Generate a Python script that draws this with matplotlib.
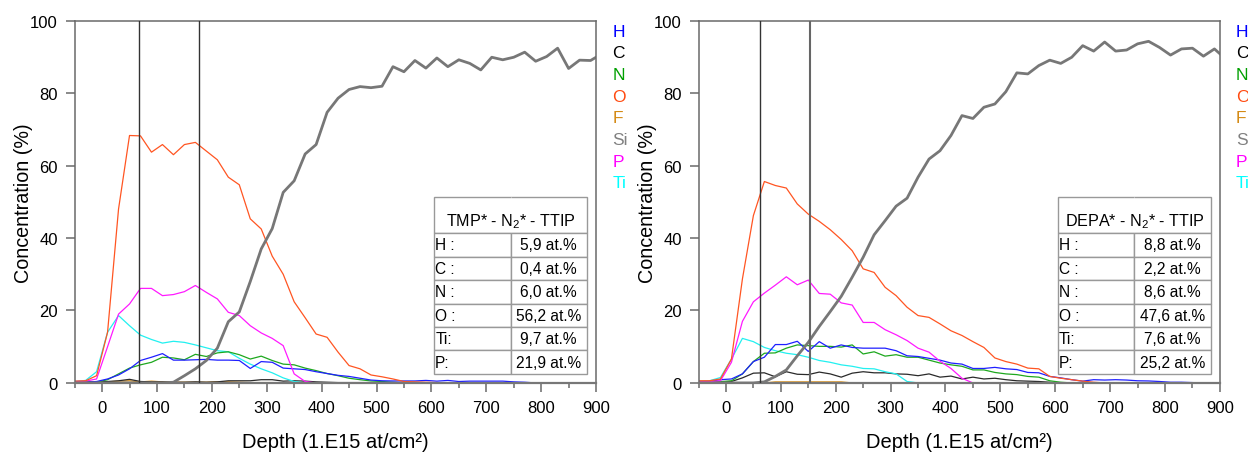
import matplotlib
matplotlib.use("Agg")
import matplotlib.pyplot as plt
from matplotlib.ticker import MultipleLocator

plt.rcParams['font.family'] = ['Liberation Sans', 'DejaVu Sans']
plt.rcParams['mathtext.fontset'] = 'custom'
plt.rcParams['mathtext.rm'] = 'Liberation Sans'
plt.rcParams['mathtext.default'] = 'rm'

# depth grid (1.E15 at/cm2)
depth = [-50, -30, -10, 10, 30, 50, 70, 90, 110, 130, 150, 170, 190, 210, 230, 250,
         270, 290, 310, 330, 350, 370, 390, 410, 430, 450, 470, 490, 510, 530, 550,
         570, 590, 610, 630, 650, 670, 690, 710, 730, 750, 770, 790, 810, 830, 850,
         870, 890, 910]

# ---- TMP* - N2* - TTIP ----
tmp_H = [0.2, 0.2, 0.4, 1.1, 2.2, 3.9, 6.2, 7.1, 8.1, 6.3, 6.3, 6.4, 6.5, 6.3, 6.3, 6.2,
         4.0, 5.9, 5.7, 4.1, 3.9, 3.7, 3.1, 2.6, 2.1, 1.8, 1.3, 0.8, 0.6, 0.55, 0.55,
         0.55, 0.7, 0.5, 0.7, 0.4, 0.5, 0.5, 0.5, 0.5, 0.3, 0.2, 0, 0, 0, 0,
         0, 0, 0]
tmp_C = [0.3, 0.3, 0.3, 0.4, 0.6, 1.0, 0.4, 0.3, 0.3, 0.2, 0.2, 0.3, 0.2, 0.3, 0.6, 0.6,
         0.6, 0.9, 0.9, 0.5, 0.6, 0.5, 0.3, 0.2, 0.1, 0.1, 0.1, 0.1, 0.1, 0.1, 0.1,
         0, 0, 0, 0, 0, 0, 0, 0, 0, 0, 0, 0, 0, 0, 0,
         0, 0, 0]
tmp_N = [0.2, 0.2, 0.2, 0.9, 2.5, 4.1, 5.0, 5.7, 7.1, 6.9, 6.4, 7.9, 7.3, 8.3, 8.6, 7.8,
         6.6, 7.4, 6.2, 5.2, 5.0, 4.1, 3.4, 2.6, 2.0, 1.3, 0.9, 0.55, 0.4, 0.2, 0,
         0, 0, 0, 0, 0, 0, 0, 0, 0, 0, 0, 0, 0, 0, 0,
         0, 0, 0]
tmp_O = [0.5, 0.6, 2.0, 14.0, 48.0, 68.3, 68.2, 63.7, 65.8, 63.0, 65.8, 66.4, 64.0, 61.6, 56.8, 54.7,
         45.3, 42.5, 35.0, 30.0, 22.4, 18.0, 13.5, 12.6, 8.5, 4.8, 3.9, 2.2, 1.7, 1.1, 0.4,
         0.3, 0.2, 0.1, 0, 0, 0, 0, 0, 0, 0, 0, 0, 0, 0, 0,
         0, 0, 0]
tmp_F = [0, 0.1, 0.2, 0.3, 0.5, 0.6, 0.3, 0.5, 0.3, 0.2, 0.2, 0.2, 0.2, 0.3, 0.3, 0.2,
         0.1, 0.1, 0.1, 0, 0, 0, 0, 0, 0, 0, 0, 0, 0, 0, 0,
         0, 0, 0, 0, 0, 0, 0, 0, 0, 0, 0, 0, 0, 0, 0,
         0, 0, 0]
tmp_Si = [0, 0, 0, 0, 0, 0, 0, 0, 0, 0.2, 2.0, 3.9, 6.2, 9.6, 16.9, 19.6,
          28.0, 37.0, 42.6, 52.6, 55.8, 63.2, 65.8, 74.7, 78.6, 81.0, 81.8, 81.5, 81.9, 87.3, 85.9,
          89.0, 86.9, 89.7, 87.3, 89.2, 88.2, 86.4, 89.9, 89.2, 89.9, 91.3, 88.8, 90.1, 92.4, 86.8,
          89.1, 89.0, 90.8]
tmp_P = [0.4, 0.5, 1.1, 10.0, 19.0, 21.8, 26.1, 26.1, 24.1, 24.4, 25.2, 26.9, 25.0, 23.2, 19.5, 18.6,
         15.8, 13.8, 12.3, 10.3, 2.5, 0.4, 0, 0, 0, 0, 0, 0, 0, 0, 0,
         0, 0, 0, 0, 0, 0, 0, 0, 0, 0, 0, 0, 0, 0, 0,
         0, 0, 0]
tmp_Ti = [0.4, 0.7, 3.1, 14.0, 18.6, 15.8, 13.2, 12.0, 11.0, 11.5, 11.2, 10.5, 9.7, 8.9, 8.6, 6.8,
          5.2, 3.9, 2.8, 1.4, 0.4, 0, 0, 0, 0, 0, 0, 0, 0, 0, 0,
          0, 0, 0, 0, 0, 0, 0, 0, 0, 0, 0, 0, 0, 0, 0,
          0, 0, 0]

# ---- DEPA* - N2* - TTIP ----
depa_H = [0.4, 0.4, 0.9, 1.1, 2.5, 5.9, 7.1, 10.6, 10.6, 11.5, 8.7, 11.4, 9.6, 10.5, 9.8, 9.6,
          9.6, 9.6, 8.9, 7.5, 7.3, 6.8, 6.3, 5.5, 5.2, 4.0, 4.0, 4.3, 3.9, 3.7, 2.9,
          2.8, 1.8, 1.4, 0.9, 0.5, 0.9, 0.8, 0.9, 0.8, 0.6, 0.55, 0.4, 0.2, 0.2, 0.1,
          0, 0, 0]
depa_C = [0.2, 0.2, 0.4, 0.4, 1.4, 2.7, 2.8, 1.7, 3.1, 2.4, 2.3, 3.0, 2.5, 1.6, 2.7, 3.1,
          2.8, 2.8, 2.5, 2.4, 2.0, 2.5, 1.6, 1.9, 1.1, 1.6, 1.1, 1.3, 0.9, 0.6, 0.5,
          0.4, 0.2, 0, 0, 0, 0, 0, 0, 0, 0, 0, 0, 0, 0, 0,
          0, 0, 0]
depa_N = [0.2, 0.2, 0.3, 0.6, 2.5, 5.9, 8.2, 8.3, 9.6, 10.5, 10.3, 10.1, 10.1, 9.9, 10.5, 8.0,
          8.6, 7.4, 7.8, 7.1, 7.1, 6.3, 5.5, 5.0, 4.6, 3.6, 3.6, 2.9, 2.5, 2.3, 1.8,
          1.6, 0.6, 0.2, 0, 0, 0, 0, 0, 0, 0, 0, 0, 0, 0, 0,
          0, 0, 0]
depa_O = [0.6, 0.6, 1.1, 6.6, 28.7, 46.2, 55.6, 54.5, 53.8, 49.4, 46.6, 44.6, 42.3, 39.6, 36.5, 31.5,
          30.5, 26.4, 24.1, 20.9, 18.6, 18.1, 16.3, 14.4, 13.1, 11.4, 9.8, 6.9, 5.9, 5.2, 4.1,
          3.9, 1.8, 1.3, 0.9, 0.5, 0.2, 0, 0, 0, 0, 0, 0, 0, 0, 0,
          0, 0, 0]
depa_F = [0, 0, 0, 0, 0, 0, 0, 0.3, 0.3, 0.3, 0.3, 0.3, 0.3, 0.3, 0, 0,
          0, 0, 0, 0, 0, 0, 0, 0, 0, 0, 0, 0, 0, 0, 0,
          0, 0, 0, 0, 0, 0, 0, 0, 0, 0, 0, 0, 0, 0, 0,
          0, 0, 0]
depa_Si = [0, 0, 0, 0, 0, 0, 0.3, 1.8, 3.6, 7.5, 11.2, 15.6, 19.7, 23.9, 29.2, 34.7,
           40.9, 44.8, 48.8, 51.0, 56.8, 61.8, 64.1, 68.3, 73.8, 73.0, 76.1, 77.0, 80.4, 85.6, 85.3,
           87.6, 89.1, 88.2, 89.9, 93.1, 91.6, 94.1, 91.6, 91.9, 93.6, 94.3, 92.6, 90.5, 92.2, 92.4,
           90.2, 92.2, 89.5]
depa_P = [0.4, 0.4, 0.6, 5.7, 17.0, 22.4, 24.8, 27.0, 29.3, 27.1, 28.4, 24.7, 24.5, 22.1, 21.5, 16.7,
          16.7, 14.7, 13.3, 11.7, 9.6, 8.5, 6.0, 4.0, 1.3, 0, 0, 0, 0, 0, 0,
          0, 0, 0, 0, 0, 0, 0, 0, 0, 0, 0, 0, 0, 0, 0,
          0, 0, 0]
depa_Ti = [0.4, 0.6, 1.5, 6.6, 12.3, 11.4, 9.8, 8.9, 8.2, 7.8, 7.1, 6.2, 5.7, 5.0, 4.6, 4.0,
           3.9, 3.1, 2.5, 0.4, 0, 0, 0, 0, 0, 0, 0, 0, 0, 0, 0,
           0, 0, 0, 0, 0, 0, 0, 0, 0, 0, 0, 0, 0, 0, 0,
           0, 0, 0]

elements = ['H', 'C', 'N', 'O', 'F', 'Si', 'P', 'Ti']
line_colors = {'H': '#1f1fff', 'C': '#2a2a2a', 'N': '#1ea81e', 'O': '#ff5522',
               'F': '#d9901c', 'Si': '#777777', 'P': '#ff1aff', 'Ti': '#22f0f0'}
text_colors = {'H': '#0000ff', 'C': '#000000', 'N': '#00a000', 'O': '#ff4a10',
               'F': '#d48a14', 'Si': '#808080', 'P': '#ff00ff', 'Ti': '#00ffff'}

tmp_series = {'H': tmp_H, 'C': tmp_C, 'N': tmp_N, 'O': tmp_O, 'F': tmp_F,
              'Si': tmp_Si, 'P': tmp_P, 'Ti': tmp_Ti}
depa_series = {'H': depa_H, 'C': depa_C, 'N': depa_N, 'O': depa_O, 'F': depa_F,
               'Si': depa_Si, 'P': depa_P, 'Ti': depa_Ti}

tmp_bounds = [68, 177]
depa_bounds = [62, 153]

tmp_title = 'TMP* - N$_2$* - TTIP'
depa_title = 'DEPA* - N$_2$* - TTIP'
table_labels = ['H :', 'C :', 'N :', 'O :', 'Ti:', 'P:']
tmp_table = ['5,9 at.%', '0,4 at.%', '6,0 at.%', '56,2 at.%', '9,7 at.%', '21,9 at.%']
depa_table = ['8,8 at.%', '2,2 at.%', '8,6 at.%', '47,6 at.%', '7,6 at.%', '25,2 at.%']

frame_grey = '#6a6a6a'


def draw_panel(ax, series, bounds, title, values, bound_styles):
    order = ['F', 'C', 'Ti', 'N', 'H', 'P', 'O', 'Si']
    for el in order:
        lw = 2.0 if el == 'Si' else 0.9
        ax.plot(depth, series[el], color=line_colors[el], lw=lw, zorder=2)
    for b, (col, w) in zip(bounds, bound_styles):
        ax.axvline(b, color=col, lw=w, zorder=3)

    ax.set_xlim(-50, 900)
    ax.set_ylim(0, 100)
    ax.xaxis.set_major_locator(MultipleLocator(100))
    ax.xaxis.set_minor_locator(MultipleLocator(50))
    ax.yaxis.set_major_locator(MultipleLocator(20))
    ax.tick_params(axis='x', which='major', length=6.5, width=1.1, pad=6, labelsize=12,
                   color=frame_grey)
    ax.tick_params(axis='x', which='minor', length=3.3, width=1.1, color=frame_grey)
    ax.tick_params(axis='y', length=6.5, width=1.1, pad=5.5, labelsize=12, color=frame_grey)
    for s in ['left', 'top', 'right']:
        ax.spines[s].set_color(frame_grey)
        ax.spines[s].set_linewidth(1.1)
    ax.spines['bottom'].set_color('#777777')
    ax.spines['bottom'].set_linewidth(1.6)

    ax.set_xlabel('Depth (1.E15 at/cm²)', fontsize=14.5)
    ax.set_ylabel('Concentration (%)', fontsize=14.2)
    ax.xaxis.set_label_coords(0.5, -0.135)
    ax.yaxis.set_label_coords(-0.080, 0.5)

    # element labels right of the frame
    for i, el in enumerate(elements):
        ax.text(1.031, 0.971 - i * 0.0598, el, color=text_colors[el], fontsize=12.5,
                ha='left', va='center', transform=ax.transAxes, clip_on=False)

    # summary table
    cells = [['', '']] + [[l, v] for l, v in zip(table_labels, values)]
    tab = ax.table(cellText=cells, cellLoc='center', bbox=[0.69, 0.025, 0.292, 0.488])
    tab.set_zorder(6)
    tab.auto_set_font_size(False)
    tab.set_fontsize(11.2)
    for (r, c), cell in tab.get_celld().items():
        cell.set_edgecolor('#999999')
        cell.set_linewidth(1.0)
        cell.set_height(0.204 if r == 0 else 0.1327)
        if r == 0:
            cell.visible_edges = 'BTL' if c == 0 else 'BTR'
        if c == 0:
            cell.PAD = 0.01
            cell.get_text().set_ha('left')
    ax.text(0.836, 0.447, title, fontsize=11.6, ha='center', va='center',
            transform=ax.transAxes, zorder=7)


fig = plt.figure(figsize=(12.48, 4.56), dpi=100)
ax1 = fig.add_axes([0.0598, 0.158, 0.4178, 0.7945])
ax2 = fig.add_axes([0.5597, 0.158, 0.4178, 0.7945])
draw_panel(ax1, tmp_series, tmp_bounds, tmp_title, tmp_table,
           [('#333333', 1.0), ('#333333', 1.0)])
draw_panel(ax2, depa_series, depa_bounds, depa_title, depa_table,
           [('#333333', 1.0), ('#666666', 1.5)])

fig.savefig('out.png', dpi=100)
